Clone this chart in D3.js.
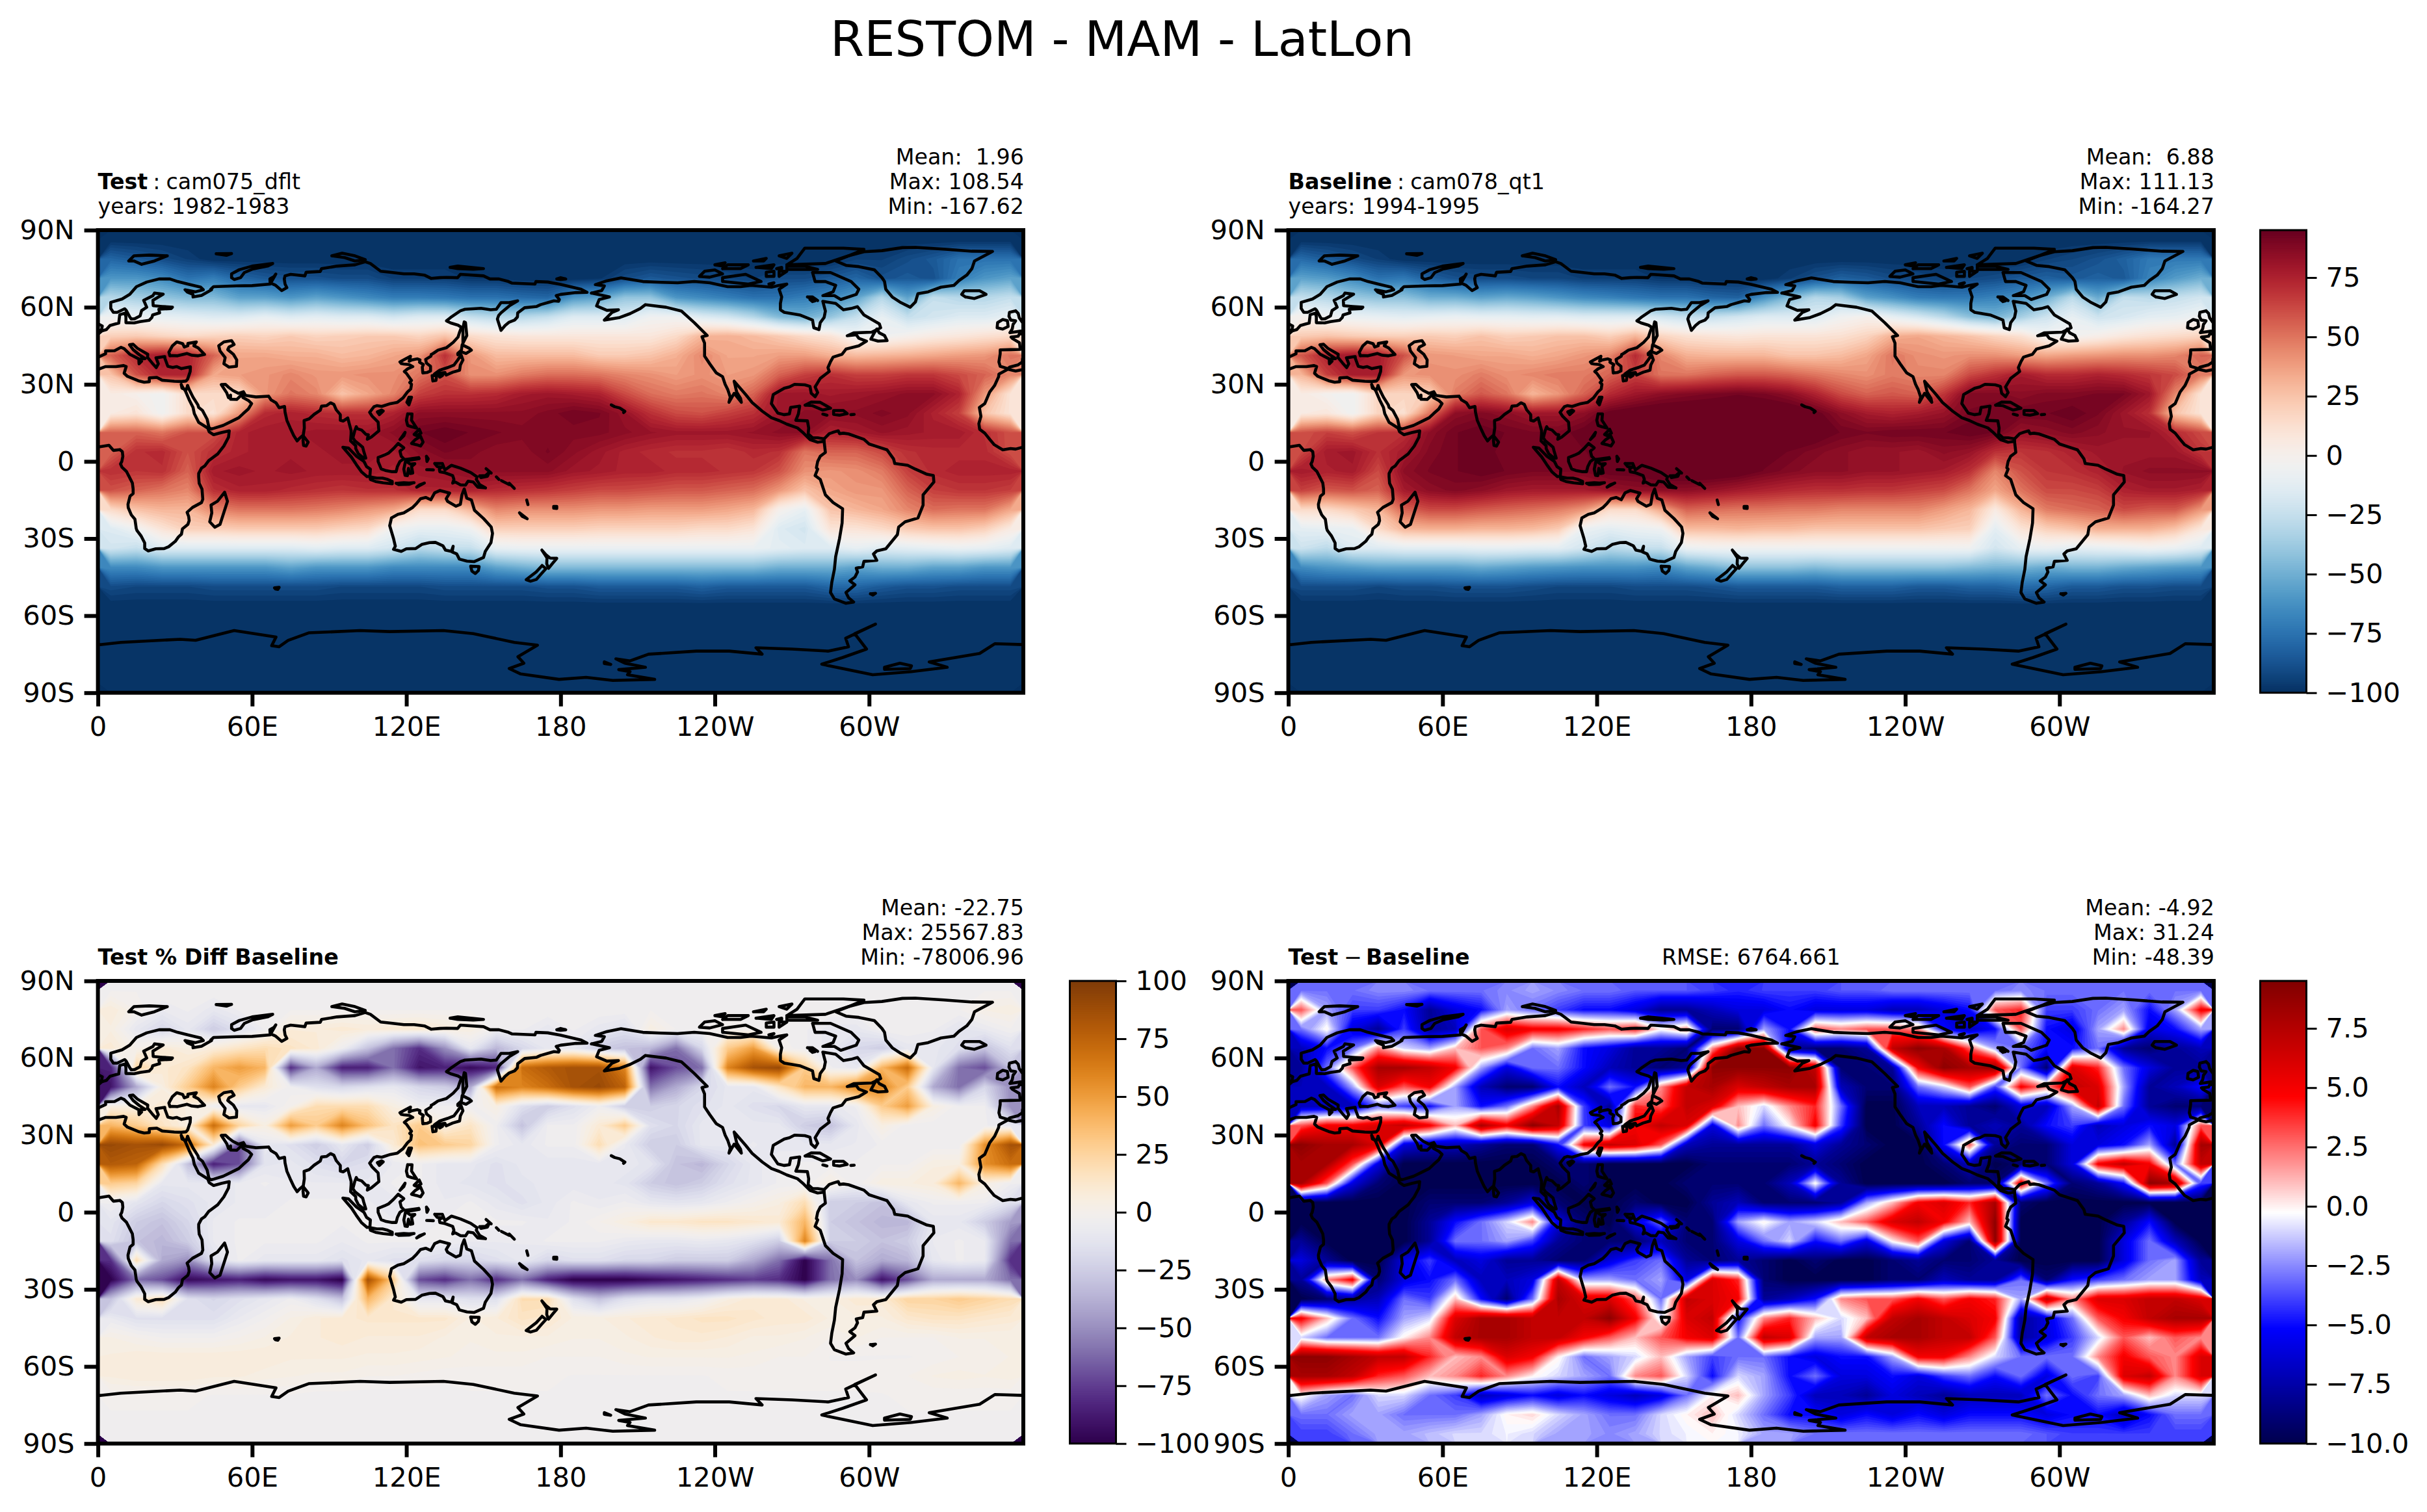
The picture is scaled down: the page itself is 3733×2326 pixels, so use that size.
<!DOCTYPE html>
<html>
<head>
<meta charset="utf-8">
<script src="https://cdn.jsdelivr.net/npm/d3@7"></script>
<style>
  body { margin: 0; background: #fff; }
  text { font-family: "DejaVu Sans"; fill: #000; }
</style>
</head>
<body>
<div id="chart"></div>
<script>
// grid: 10 deg columns, 7.5 deg rows, north to south
const lons = [5,15,25,35,45,55,65,75,85,95,105,115,125,135,145,155,165,175,185,195,205,215,225,235,245,255,265,275,285,295,305,315,325,335,345,355];
const lats = [86.25,78.75,71.25,63.75,56.25,48.75,41.25,33.75,26.25,18.75,11.25,3.75,-3.75,-11.25,-18.75,-26.25,-33.75,-41.25,-48.75,-56.25,-63.75,-71.25,-78.75,-86.25];

const lonTicks = [0,60,120,180,240,300];
const lonLabels = ["0","60E","120E","180","120W","60W"];
const latTicks = [90,60,30,0,-30,-60,-90];
const latLabels = ["90N","60N","30N","0","30S","60S","90S"];

const restomTicks = [-100,-75,-50,-25,0,25,50,75];
const pctTicks = [-100,-75,-50,-25,0,25,50,75,100];
const diffTicks = [-10,-7.5,-5,-2.5,0,2.5,5,7.5];

const testValues = [
[-100,-100,-100,-100,-100,-100,-100,-100,-100,-100,-100,-100,-100,-100,-100,-100,-100,-100,-100,-100,-100,-100,-100,-100,-100,-100,-100,-100,-100,-100,-100,-100,-100,-100,-100,-100],
[-80,-85,-90,-95,-100,-100,-100,-100,-100,-100,-100,-100,-100,-100,-100,-100,-100,-100,-100,-100,-100,-100,-100,-100,-100,-100,-100,-100,-100,-95,-95,-90,-85,-75,-75,-75],
[-60,-60,-65,-75,-70,-80,-85,-88,-88,-90,-90,-95,-95,-95,-98,-98,-100,-100,-100,-98,-90,-85,-88,-90,-92,-95,-90,-90,-85,-80,-88,-85,-88,-70,-60,-55],
[-30,-35,-40,-45,-45,-55,-55,-60,-55,-60,-65,-70,-70,-72,-75,-75,-78,-80,-60,-55,-40,-40,-60,-65,-70,-75,-75,-70,-65,-55,-30,-55,-25,-30,-30,-25],
[-5,-8,-10,-12,-15,-15,-10,-15,-12,-15,-15,-20,-15,-15,-25,-30,-30,-25,-15,-15,-15,-5,-5,-15,-20,-30,-45,-50,-40,-25,-10,-25,-20,-15,-15,-10],
[20,22,18,15,18,20,18,22,18,20,22,22,18,25,15,10,8,8,8,8,8,8,15,30,32,28,22,15,10,-5,-5,0,5,8,12,15],
[55,72,78,75,55,35,35,32,32,28,30,35,40,70,40,28,28,28,28,22,22,25,32,45,35,35,38,38,32,28,30,32,35,38,40,50],
[25,60,75,75,35,38,40,45,40,40,42,42,50,60,42,42,48,52,52,50,45,42,38,42,38,40,55,65,70,65,65,68,68,62,55,45],
[5,0,-5,15,15,15,40,50,45,25,35,45,65,70,70,72,78,80,78,75,62,52,48,50,45,55,80,80,78,80,82,85,85,75,40,10],
[5,10,-5,15,10,40,72,75,72,70,70,75,85,85,85,85,85,88,92,90,82,70,62,60,65,70,80,85,85,85,88,85,75,65,25,10],
[55,55,50,60,60,75,78,78,80,80,80,85,92,95,92,90,88,88,88,88,85,82,80,80,80,82,85,85,75,78,82,80,78,78,70,60],
[55,70,72,60,70,75,78,78,78,80,80,78,85,90,88,85,85,90,85,80,75,72,70,70,68,72,70,50,55,55,62,70,72,72,72,60],
[70,68,70,55,78,80,78,80,78,78,78,75,80,82,85,85,85,85,80,78,75,75,72,72,70,68,60,42,40,42,48,65,72,75,75,75],
[60,55,50,45,70,75,75,72,70,68,70,70,75,75,75,72,70,68,65,62,62,60,58,58,55,52,40,25,35,40,40,55,65,68,68,65],
[15,25,30,30,45,50,50,50,48,45,40,35,15,15,30,45,42,42,42,40,40,38,38,38,35,30,0,-10,25,30,35,45,52,50,50,35],
[-15,-5,10,20,20,22,22,22,22,18,15,-5,-10,-10,-5,20,20,20,20,18,18,18,18,15,15,10,-15,-20,10,10,15,22,25,25,20,5],
[-20,-25,-15,-15,-15,-15,-15,-15,-12,-15,-15,-20,-30,-25,-25,-10,-8,-8,-8,-8,-8,-8,-8,-8,-8,-8,-12,-15,-15,-10,-15,-12,-10,-8,-10,-15],
[-65,-65,-60,-60,-60,-60,-60,-55,-60,-60,-60,-65,-65,-65,-65,-55,-50,-45,-45,-45,-45,-45,-45,-45,-45,-45,-50,-50,-50,-55,-50,-50,-55,-55,-60,-60],
[-90,-92,-92,-92,-90,-90,-90,-90,-90,-92,-92,-92,-92,-90,-90,-90,-90,-88,-88,-85,-85,-85,-85,-82,-85,-85,-85,-85,-80,-80,-85,-88,-88,-90,-90,-90],
[-100,-100,-100,-100,-100,-100,-100,-100,-100,-100,-100,-100,-100,-100,-100,-100,-100,-100,-100,-100,-100,-100,-100,-100,-100,-100,-100,-100,-100,-100,-100,-100,-100,-100,-100,-100],
[-100,-100,-100,-100,-100,-100,-100,-100,-100,-100,-100,-100,-100,-100,-100,-100,-100,-100,-100,-100,-100,-100,-100,-100,-100,-100,-100,-100,-100,-100,-100,-100,-100,-100,-100,-100],
[-100,-100,-100,-100,-100,-100,-100,-100,-100,-100,-100,-100,-100,-100,-100,-100,-100,-100,-100,-100,-100,-100,-100,-100,-100,-100,-100,-100,-100,-100,-100,-100,-100,-100,-100,-100],
[-100,-100,-100,-100,-100,-100,-100,-100,-100,-100,-100,-100,-100,-100,-100,-100,-100,-100,-100,-100,-100,-100,-100,-100,-100,-100,-100,-100,-100,-100,-100,-100,-100,-100,-100,-100],
[-100,-100,-100,-100,-100,-100,-100,-100,-100,-100,-100,-100,-100,-100,-100,-100,-100,-100,-100,-100,-100,-100,-100,-100,-100,-100,-100,-100,-100,-100,-100,-100,-100,-100,-100,-100]
];

const baseValues = [
[-100,-100,-100,-100,-100,-100,-100,-100,-100,-100,-100,-100,-100,-100,-100,-100,-100,-100,-100,-100,-100,-100,-100,-100,-100,-100,-100,-100,-100,-100,-100,-100,-100,-100,-100,-100],
[-78,-84,-90,-95,-100,-100,-100,-100,-100,-100,-100,-100,-100,-100,-100,-100,-100,-100,-100,-100,-100,-100,-100,-100,-100,-100,-100,-100,-100,-95,-92,-88,-82,-72,-72,-72],
[-55,-58,-65,-75,-72,-82,-88,-90,-90,-92,-92,-95,-95,-95,-98,-98,-100,-100,-100,-95,-88,-82,-85,-90,-92,-95,-92,-90,-85,-82,-85,-82,-85,-68,-58,-50],
[-25,-30,-38,-42,-42,-50,-50,-55,-52,-55,-60,-65,-68,-72,-75,-75,-80,-82,-62,-45,-30,-35,-55,-62,-70,-72,-72,-68,-62,-50,-28,-52,-25,-28,-25,-20],
[0,-5,-8,-10,-12,-10,-8,-10,-10,-12,-12,-15,-15,-15,-20,-25,-25,-20,-15,-15,-15,-5,0,-10,-18,-28,-42,-48,-35,-22,-10,-22,-18,-12,-10,-5],
[22,25,22,20,20,22,20,25,20,22,25,25,20,30,18,12,10,8,10,10,10,12,18,32,35,30,25,18,12,-3,-3,2,8,12,15,18],
[58,75,80,78,60,40,38,35,35,32,35,40,45,72,45,32,30,30,30,25,25,28,35,50,42,40,42,42,38,35,38,40,42,42,45,55],
[30,65,78,78,40,42,42,48,42,45,48,48,55,65,50,50,55,58,58,55,50,45,42,48,45,45,62,70,78,72,72,75,72,68,62,48],
[5,-2,-5,18,18,20,48,58,50,30,40,55,72,80,85,88,90,92,90,85,75,62,55,58,55,68,88,88,85,88,88,90,90,80,45,10],
[5,8,-5,18,12,50,85,88,85,80,80,85,95,98,100,100,100,100,100,100,95,85,78,75,78,82,90,92,92,92,95,90,80,70,25,10],
[60,65,60,68,70,85,92,95,92,90,90,95,100,100,100,100,100,100,100,100,98,92,90,92,92,92,95,92,82,85,88,85,82,82,72,62],
[62,78,80,70,78,88,92,95,90,90,90,92,95,100,100,100,100,100,95,92,88,85,82,82,80,85,82,70,68,70,75,80,80,80,80,68],
[78,75,78,62,85,90,92,95,92,90,90,90,95,95,100,100,100,98,92,88,85,85,82,82,80,78,70,45,60,68,70,75,82,85,85,85],
[65,58,60,55,78,85,88,85,80,78,78,78,82,85,85,85,82,78,75,72,70,70,68,68,65,62,50,35,50,62,62,65,75,78,78,75],
[15,15,22,30,55,62,62,58,55,52,48,40,15,15,35,55,52,50,50,48,48,45,45,45,45,38,30,5,30,48,52,55,62,58,58,40],
[-12,-10,-8,15,30,32,32,30,30,28,22,-8,-12,-8,-5,28,28,30,28,28,25,25,25,25,25,22,20,-12,10,20,25,32,32,32,25,8],
[-22,-28,-15,-15,-12,-12,-12,-10,-10,-12,-12,-20,-30,-25,-25,-8,-5,-5,-5,-5,-5,-5,-5,-5,-5,-5,-5,-20,-10,-8,-12,-10,-8,-5,-8,-15],
[-65,-60,-58,-55,-55,-55,-55,-52,-55,-58,-60,-62,-62,-62,-65,-55,-50,-42,-42,-42,-45,-42,-42,-42,-42,-42,-45,-48,-48,-52,-48,-48,-52,-55,-58,-60],
[-90,-90,-90,-92,-90,-90,-88,-88,-88,-90,-92,-92,-92,-90,-90,-90,-88,-85,-85,-85,-85,-82,-82,-82,-85,-85,-82,-82,-78,-80,-85,-85,-88,-88,-90,-90],
[-100,-100,-100,-100,-100,-100,-100,-100,-100,-100,-100,-100,-100,-100,-100,-100,-100,-100,-100,-100,-100,-100,-100,-100,-100,-100,-100,-100,-100,-100,-100,-100,-100,-100,-100,-100],
[-100,-100,-100,-100,-100,-100,-100,-100,-100,-100,-100,-100,-100,-100,-100,-100,-100,-100,-100,-100,-100,-100,-100,-100,-100,-100,-100,-100,-100,-100,-100,-100,-100,-100,-100,-100],
[-100,-100,-100,-100,-100,-100,-100,-100,-100,-100,-100,-100,-100,-100,-100,-100,-100,-100,-100,-100,-100,-100,-100,-100,-100,-100,-100,-100,-100,-100,-100,-100,-100,-100,-100,-100],
[-100,-100,-100,-100,-100,-100,-100,-100,-100,-100,-100,-100,-100,-100,-100,-100,-100,-100,-100,-100,-100,-100,-100,-100,-100,-100,-100,-100,-100,-100,-100,-100,-100,-100,-100,-100],
[-100,-100,-100,-100,-100,-100,-100,-100,-100,-100,-100,-100,-100,-100,-100,-100,-100,-100,-100,-100,-100,-100,-100,-100,-100,-100,-100,-100,-100,-100,-100,-100,-100,-100,-100,-100]
];

const pctValues = [
[-3,-3,-3,-3,-3,-3,-3,-3,-3,-3,-3,-3,-3,-3,-3,-3,-3,-3,-3,-3,-3,-3,-3,-3,-3,-3,-3,-3,-3,-3,-3,-3,-3,-3,-3,-3],
[8,0,-8,-5,-10,-5,-3,-3,-3,-3,-3,-3,-3,-3,-3,-3,-3,-3,-3,-3,-3,-3,-3,-3,-3,-3,-3,-3,-3,-3,-3,-3,-3,-3,3,5],
[5,-10,-20,-10,-25,-15,-5,8,8,10,8,10,12,8,5,-5,-5,-10,-5,-10,-15,5,-3,-3,0,-3,-3,-5,-10,-10,-3,-3,-5,-12,-8,-3],
[10,0,10,5,8,15,20,15,10,-5,-30,-60,-80,-50,-10,-35,-20,-10,-10,-25,-30,-35,-60,-20,30,50,0,-5,-10,-20,-25,-10,-10,-15,-30,-15],
[-85,25,10,15,40,50,40,-80,-40,-85,-85,-60,-90,-85,-95,-85,70,80,85,85,60,-90,-70,-60,60,85,90,30,-5,-10,40,70,-10,-60,-70,-30],
[-90,-40,5,30,60,30,10,-5,-15,-20,-15,-10,-20,-25,-40,70,60,70,85,90,75,-60,-40,-20,-10,-10,15,40,40,60,60,30,-40,-60,-20,-50],
[5,5,10,5,-5,-10,-10,0,20,20,20,5,-5,-5,-5,5,-15,-25,-15,-5,-25,-25,-20,-15,-10,-15,-20,-10,-10,-5,30,50,5,-5,-5,-50],
[40,30,15,5,70,25,5,50,30,60,35,15,30,5,15,-5,-30,-5,-5,10,30,-15,-20,-10,-10,-10,-10,-25,-30,-10,5,-5,-5,-5,-5,-10],
[90,85,90,70,10,-70,-10,-15,-25,-10,-25,10,35,30,25,-5,-10,-5,-5,20,-8,-25,-25,-10,-10,-8,-10,-10,-10,-8,-5,-5,-5,-5,55,85],
[80,75,20,-30,-85,-70,-12,-10,-15,-20,-15,-8,-5,-10,-10,-15,-10,-10,-10,-10,-10,-12,-30,-35,-20,-10,-5,-5,-5,-5,-3,-3,5,5,55,70],
[30,25,-10,-10,-10,-8,-5,-8,-8,-8,-10,-5,-5,-10,-12,-15,-12,-10,-10,-10,-12,-25,-30,-25,-15,-10,-5,-5,5,-5,5,5,8,40,5,-5],
[-5,-12,-20,-15,-10,-8,-8,-5,-5,-5,-8,-10,-5,-8,-5,-10,-15,-10,-5,-8,-5,-10,-12,-10,-5,0,5,20,-25,-25,-30,-10,-5,-5,-5,-15],
[-12,-25,-30,-20,-8,-5,-5,-5,-5,-5,-5,-8,-8,-5,-5,-5,-5,-8,-5,0,5,12,12,15,15,12,10,40,-25,-30,-35,-35,-10,-10,-25,-45],
[-15,-30,-35,-25,-8,-5,-5,-5,-5,-8,-5,-5,-5,-5,-8,-8,-8,-5,-5,-5,-8,-10,-10,-8,-10,-15,-25,60,-25,-25,-30,-25,-8,-5,-8,-60],
[-80,20,-40,-50,-15,-5,-10,-10,-10,-15,-10,-15,-15,-20,-20,-15,-10,-20,-15,-15,-20,-20,-25,-25,-25,-40,-60,-100,-60,-30,-40,-35,-10,-5,-8,-80],
[-100,-60,-70,-95,-90,-85,-95,-90,-90,-100,85,30,-70,-80,-60,-80,-60,-85,-100,-100,-100,-95,-90,-85,-80,-75,-80,-100,-60,-50,-90,-70,-40,-40,-40,-60],
[-30,10,20,-15,-20,-15,-10,-5,-15,-30,40,10,-10,-10,-15,-15,20,20,-15,-30,-15,-10,-10,-5,5,10,10,5,5,10,10,25,25,30,25,20],
[-8,-15,-15,-15,-15,-8,-3,3,8,10,12,12,12,12,5,8,15,12,5,5,8,10,12,15,15,12,10,10,5,5,5,12,15,15,12,10],
[3,0,-3,-3,-3,0,3,6,8,10,8,8,8,5,3,5,5,5,3,3,5,8,10,10,8,5,5,3,0,3,0,0,0,3,3,3],
[6,8,8,8,8,8,8,6,6,6,5,5,4,3,2,2,2,0,0,0,2,3,3,3,3,2,0,0,-3,-3,-3,-3,-2,0,0,3],
[6,8,8,8,6,6,4,3,2,2,0,0,-1,-2,-2,-2,-2,-2,-3,-3,-3,-3,-3,-3,-2,-2,-2,-2,-2,-2,-1,0,3,4,3,4],
[-2,-2,-2,-2,-3,-3,-3,-3,-4,-4,-4,-4,-4,-4,-3,-3,-3,-3,-3,-3,-3,-3,-3,-3,-3,-3,-3,-3,-3,-3,-3,-2,-2,-2,-2,-2],
[-3,-3,-3,-3,-3,-3,-3,-3,-3,-3,-3,-3,-3,-3,-3,-3,-3,-3,-3,-3,-3,-3,-3,-3,-3,-3,-3,-3,-3,-3,-3,-3,-3,-3,-3,-3],
[-3,-3,-3,-3,-3,-3,-3,-3,-3,-3,-3,-3,-3,-3,-3,-3,-3,-3,-3,-3,-3,-3,-3,-3,-3,-3,-3,-3,-3,-3,-3,-3,-3,-3,-3,-3]
];

const diffValues = [
[-3,-3,-3,-2.5,-2.5,-3,-3,-3,-2.5,-2,-2.5,-3,-3,-3.5,-3.5,-3.5,-4,-4.5,-4,-4,-4,-3.5,-3.5,-3,-3,-3,-3,-3,-2.5,-3,-3,-3,-3,-3,-3,-3],
[3,-2,-4,-4,-5,-8,-6,-5,-2,-3,-4,-5,-5,-6,-8,-8,-7,-6,-6,-5,-6,-6,-6,-7,-7,-6,-5,3,4,-4,-4,-3,-2,-5,-2,5],
[-3,0,-6,-8,-4,-8,-7,3,6,5,5,4,3,4,0,2,-9,-9,-2,-5,3,2,3,3,2,-5,-7,-5,3,-5,-6,-2,2,-6,-5,-2],
[-7,-5,-3,2,-1,-2,1,3,2,-3,-2,-5,-6,-8,-8,-9,2,9,9,-8,-9,-9,-8,7,9,8,3,-2,-3,-5,-5,-3,-8,-9,-8,-7],
[-8,-3,3,8,8,7,5,-2,-6,-3,-3,-5,-7,-8,-9,-8,9,9,9,9,7,-9,-9,-8,5,9,8,9,-3,-9,6,4,-3,-6,-8,-8],
[-7,-7,-2,6,3,5,-2,-7,-9,-9,-5,-7,-3,-5,2,7,8,6,7,8,8,-7,-9,-9,-3,-1,3,-4,5,2,7,6,-2,-8,-7,-5],
[-7,-7,-7,-3,-4,-5,-2,-5,-3,2,8,-4,-8,4,3,7,6,1,-1,2,4,-3,-10,-10,-7,-7,-8,-9,-6,-7,-2,7,-3,-8,-9,-9],
[3,5,5,6,7,5,1,8,5,9,7,-4,-6,5,7,6,-6,2,-3,0,5,-4,-10,-10,-8,-5,-8,-7,-8,-5,-4,-7,-6,-5,-6,3],
[9,8,8,6,-6,-7,-7,-8,-9,-9,-5,5,7,6,3,-7,-8,-8,-8,-8,-6,-8,-9,-10,-10,-5,3,-8,-9,-9,-6,-6,-5,-2,-8,8],
[8,8,3,-6,-10,-10,-10,-10,-10,-10,-9,-9,-10,-10,-10,-10,-9,-9,-9,-9,-8,-9,-10,-10,-10,-9,-7,-10,-9,-9,-6,5,7,5,-3,7],
[8,3,-6,-9,-10,-10,-10,-10,-10,-10,-10,-9,-10,-10,-10,-9,-9,-9,-9,-7,0,-8,-10,-10,-10,-10,-9,-9,6,-3,-9,-8,-5,9,8,-4],
[-10,-10,-10,-10,-10,-9,-9,-9,-8,-6,-9,-10,-10,-9,-10,-10,-8,-7,-9,-9,-9,-8,-2,1,5,6,4,8,-9,-10,-10,-10,-10,-10,-10,-10],
[-10,-10,-10,-10,-10,-8,-5,-3,-1,2,-6,-9,-10,-6,-3,-9,-9,-2,0,-2,-1,1,3,6,7,5,1,9,-10,-10,-10,-10,-8,-5,-10,-10],
[-8,-10,-10,-10,-10,-8,-3,-3,-2,-4,-8,-9,-9,-9,-7,-9,-9,-6,-3,-1,-5,-3,-6,0,3,-6,-9,9,-10,-10,-10,-10,-6,-3,-7,-10],
[-6,-8,-10,-10,-6,-4,-7,-6,-8,-8,-9,-9,-6,-4,-3,-8,-9,-8,-9,-10,-9,-10,-10,-9,-8,-9,-9,-8,-10,-10,-10,-10,-6,-3,-2,-8],
[-8,2,5,-9,-6,-5,-3,-7,-7,-6,7,-2,-2,-3,-2,-6,6,4,-9,-10,-10,-10,-10,-9,-9,-7,-8,-8,-3,-9,-5,-4,-3,-2,-2,-7],
[-10,-9,-8,-7,-3,-4,1,-5,-9,-3,8,6,6,3,-3,7,6,5,-8,-7,-5,2,3,3,5,3,5,4,-2,7,2,6,6,7,7,6],
[5,1,-3,-5,-2,-1,6,8,8,7,7,7,9,5,-1,6,7,-5,2,4,1,-1,1,7,8,7,6,5,-8,-6,-3,3,5,7,8,8],
[-1,-3,-3,-3,0,2,7,8,8,7,7,5,3,1,3,5,6,-3,7,6,-2,-2,7,8,8,7,7,3,-8,-6,-4,-1,3,1,3,2],
[9,9,8,7,7,4,1,2,6,5,0,-3,-2,-1,1,-2,-4,-3,-3,-5,-6,-5,-5,-2,5,5,2,-1,-3,-3,-3,2,5,3,2,6],
[8,8,7,4,3,1,2,4,2,0,-1,-2,-3,2,3,-1,-5,-1,-2,-5,-3,-6,-6,-5,-6,-4,-3,-5,-3,-6,-3,-4,6,7,2,6],
[0,-2,-3,-1,-1,-3,-4,-7,-6,-5,-6,-5,-6,-7,-6,-3,0,1,-2,-4,-7,-7,-8,-6,-7,-8,-7,-7,-7,-3,-5,-3,-2,1,-1,-1],
[-3,-3,-2,-2,-3,-3,-3,-2,0,0.5,-1,-2,-3,-3,-1,0,1,-1,-3,-5,-5,-6,-5,-6,-5,-6,-5,-5,-5,-6,-5,-5,-7,-5,-3,-3],
[-4,-4,-3,-2,-2,-1.5,-1,-1,-0.5,-1,-2,-2,-2.5,-2,-1,-0.5,0,-0.5,-2,-2,-3,-3,-3,-3,-3,-3,-3,-3,-3,-3.5,-4,-4,-4,-4,-4,-4]
];

// coastlines, [lon, lat]; lon runs 0..360, a few go a little past 360 and get wrapped
const africaEast = [[0,5.6],[4.3,6.3],[6,4.3],[8.5,4.6],[9.5,3.8],[9.7,2],[9.3,0],[8.8,-1],[9.4,-2.3],[11.1,-3.9],[12.2,-6],[13.4,-8.4],[13.7,-10.7],[13.7,-12.5],[12.5,-13.5],[11.7,-16.7],[11.8,-18],[13,-20.8],[14.4,-22.5],[14.9,-26],[15.2,-26.9],[16.8,-29],[18.2,-31.7],[18.2,-33.9],[19.6,-34.8],[22.5,-34],[25.8,-33.9],[27.5,-33.2],[30.1,-31.1],[31.3,-29.4],[32.5,-28.3],[32.9,-26.2],[35,-24.5],[35.5,-23],[35.3,-21.4],[34.7,-19.8],[36.8,-17.9],[40.3,-16],[40.8,-14.7],[40.5,-10.8],[39.4,-8.5],[39.2,-6],[39.2,-4.7],[40.3,-2.6],[41.6,-1.7],[43.1,0.3],[46.6,2.9],[49,6],[50.8,9.4],[51.1,11.9],[48,11.2],[45,10.4],[43.3,11.5],[42.7,13],[39.2,15.2],[37.5,18.6],[37,21],[35.5,24],[34,27.5],[33,28.8],[32.4,30],[32.7,28.5],[34.3,27.8],[34.9,29.5]];
const arabiaToKorea = [[34.9,29.5],[35.5,28],[37,25],[38.9,22],[39.2,21],[40.7,19.8],[42.5,16.4],[43.2,13.2],[44,12.6],[45.1,12.9],[48.7,14],[52,15.6],[54.8,17],[56.5,18.6],[58.5,20.4],[59.8,22.5],[58.7,23.6],[56.4,24.9],[56.4,26.4],[54,24.1],[51.6,24.2],[51.6,25.8],[50.8,24.8],[50.1,26.7],[48,29.9],[49.6,30],[50.9,28.8],[52.5,27.6],[54.7,26.5],[56.6,27.1],[57.4,25.7],[61.5,25.1],[66.4,25.4],[67.4,23.9],[69.3,22.8],[70.5,20.9],[72.6,21.4],[72.8,19.2],[73.5,16],[74.8,13],[76.2,10],[77.5,8],[78.3,8.9],[79.9,10.3],[80.3,13],[80.2,15.9],[82.2,16.6],[84.1,18.3],[86.5,19.9],[87,21.5],[88.9,21.7],[90.5,22.8],[91.8,22.2],[92.7,20.1],[94.3,18.2],[94.3,16],[95.4,15.7],[97.2,16.9],[97.7,15],[98.5,12],[98.5,10.7],[98.3,8],[100.3,6.1],[100.3,5],[101.3,3],[103.5,1.2],[104.2,1.3],[103.4,4],[103,5.5],[101.6,6.7],[100,8],[99.2,9.2],[99.9,11.9],[100.5,13.5],[101,12.7],[102.6,12.2],[104.3,10.5],[105.2,10.4],[104.8,8.6],[106.4,9.5],[109.3,11.9],[109,15.3],[106.6,17.7],[105.7,19.1],[107.4,21.3],[108.5,21.7],[110.4,21.4],[113.8,22.5],[116.5,23],[118.7,24.7],[120.4,27],[121.7,28.2],[122,30],[121.3,30.7],[122,31.5],[120,34.3],[119.2,35],[120.6,36.1],[122.5,36.9],[121,37.7],[119,37.9],[118,38.1],[117.5,38.7],[119.7,39.9],[121.6,40.9],[121.1,39],[122.1,39.5],[124.3,39.9],[125.3,39.5],[125.1,38.6],[126.6,37.7],[126.2,36.7],[126.4,34.4],[128,34.6],[129.4,35.2],[129.4,37],[127.8,38.3],[127.5,39.7],[129.5,40.9],[129.7,41.6]];
const russiaCoast = [[129.7,41.6],[130.7,42.2],[132.3,43.3],[135.5,44.2],[138.2,46.3],[140.1,48.4],[140.6,50],[141.4,52.2],[140.1,53],[137.2,53.9],[135.6,54.7],[137.2,56],[141,58.6],[142.8,59.2],[146,59.4],[149,59.6],[152.8,59],[155,59.2],[156.8,61.8],[160,61.8],[163.3,62.5],[160,60.5],[156.8,57.8],[155.9,56.8],[155.4,55.4],[156.8,51],[158.4,52.9],[160,54.2],[162.1,55],[163.2,56.2],[163.3,57.8],[166,59.8],[170.7,60.3],[172.2,61],[177.4,62.5],[179.2,62.3],[179.5,63],[178.3,64.5],[180,65],[186,65.7],[190.3,65.8],[188,67],[180,68.9],[175,69.8],[170.4,70],[170,69],[161,69.4],[159.7,70],[156,71],[152.5,71],[150,72.2],[141,72.8],[139.9,71.5],[135.6,71.6],[133,71.5],[129.7,71.2],[127,72.5],[123,73],[119,73],[113,73.7],[110,74],[106,77],[104,77.7],[100,76.5],[93,76],[87,75],[86.5,73.9],[81,73.6],[80.5,72.2],[75,72.8],[72.8,72.2],[72.5,71],[72.8,69],[73.5,67.6],[71.5,66.5],[69,68.6],[67,69.5],[66.9,71],[68.5,71.9],[69.2,72.9],[67,69],[60,68.4],[54,68.3],[45,68],[43.9,67],[44.2,66.8],[40.3,64.6],[37,64],[37,65],[34.8,65.9],[33.9,66.8],[38,66],[41,66.8],[40,67.8],[35,69],[31,70],[28,71],[23.8,71],[19,69.8],[15,68],[12.4,65],[9.4,63.2],[5,61.9],[5,59.5],[6,58],[7.5,58],[10.4,59.4],[11,58.8],[12.4,56.2],[13,55.4],[14.3,55.5],[16.4,56.6],[17,58.7],[19,60],[17.8,62.7],[21.4,64.5],[22,65.5],[25.4,65.1],[21.4,62.7],[21.5,60.6],[25,60.3],[29,60],[28.5,59.5],[23.7,59.2],[24,57.8],[21.3,57],[21,56],[19.9,54.9],[18.6,54.7],[16.4,54.4],[14.1,53.9],[10.9,54],[10.9,56.3],[10.5,57.7],[8.5,57.1],[8.3,55.5],[8.1,53.8],[6.9,53.5],[4.7,52.9],[3.3,51.3],[1.6,50.8],[0,49.5]];
const iberia = [[360,49.5],[358.5,49.7],[358,48.7],[355.2,48.4],[355.8,47.8],[358.5,46.2],[358.8,43.6],[355,43.5],[351,43.4],[351,41.9],[350.5,38.7],[351,37],[354,36.1],[354.7,36.7],[358,37.6],[359.6,38.7],[359.7,40],[360,40.5]];
const mediterranean = [[0,40.5],[3,41.9],[3,43],[6.5,43.1],[9,44.4],[10.2,43.9],[12.4,41.7],[15.9,39.9],[16,38],[17,39],[16.5,39.9],[18.4,40],[16,41.6],[13.7,43.5],[12.3,45.4],[13.7,45.6],[15.4,44],[19.4,41.7],[19.3,40.5],[21.1,38.3],[22.7,36.5],[23.5,38],[22.6,40.3],[26,40.8],[26.1,40],[27.2,37],[29.1,36.6],[30.6,36.9],[32.5,36.1],[36,36.8],[35.9,35],[34.9,32],[34.3,31.3],[32.5,31.1],[29.7,31.2],[25,31.6],[22.9,32.7],[20,32.5],[20,31],[18,30.8],[15.7,31.4],[11.5,33.1],[10.2,34.3],[11,36.9],[10,37.3],[7,36.9],[3,36.9],[0,35.8]];
const africaWest = [[360,35.8],[357,35.2],[354,35.9],[350.5,34],[350.4,33],[348.8,29.5],[346.9,27],[345,22.5],[342.9,21],[343.5,17.5],[342.7,14.7],[343,12.5],[345,11],[347,8.5],[348.7,6.5],[352,4.5],[355,5],[357,4.8],[360,5.6]];
const blackSea = [[27.6,42.5],[28,41.1],[29,41.2],[31,41.1],[34.7,42],[36.6,41.3],[39,41.1],[41.5,41.6],[39,44.2],[37.3,45],[38.3,46.5],[35,45.9],[35,45],[33.6,44.5],[33,45.8],[30.7,46.5],[29,45],[27.6,42.5]];
const caspian = [[47,45],[49,46.5],[52,47],[53,45.5],[51,44.5],[50.5,43.5],[52.7,41.7],[54,39.5],[53.9,37],[51,36.7],[49,38],[49.5,40.4],[47.5,43],[47,45]];
const britain = [[357,58.6],[354.6,58],[354.4,56.5],[355.1,55],[357,54.7],[356,53.3],[355.7,51.6],[354.8,50.1],[359,50.7],[361.4,51.2],[361.7,52.7],[360,53.6],[358.4,55.9],[358,57.6],[357,58.6]];
const ireland = [[352,51.5],[349.8,52],[350,54],[352,55.2],[353.8,54.8],[354.1,52.5],[352,51.5]];
const iceland = [[337.5,64],[336,65],[337,66.4],[343,66.4],[345.5,65],[341,63.4],[337.5,64]];
const svalbard = [[12,78],[14,80],[20,80.3],[27,80],[22,78],[17,76.7],[14,78],[12,78]];
const novayaZemlya = [[52,71.5],[52,73],[55,74.6],[60,76],[68,77],[66,76],[60,74.8],[57,73.5],[55.5,71.5],[53,70.8],[52,71.5]];
const franzJosef = [[46,80.8],[52,80.9],[50,80.2],[46,80.8]];
const severnaya = [[91,80],[95,81],[100,80],[104,78.5],[100,78],[96,79.3],[91,80]];
const newSiberian = [[137,75.5],[140,76],[145,75.5],[150,75],[146,74.8],[140,75],[137,75.5]];
const wrangel = [[178.5,71],[180,71.5],[182,71],[180,70.8],[178.5,71]];
const sakhalin = [[142,46],[143.5,49],[143,54],[142.5,54.3],[142,52],[142,48],[142,46]];
const honshu = [[130.9,34],[133,35.5],[136,36.5],[138.5,37.5],[140,39.5],[141.3,41.4],[142,39.5],[141,37.5],[140.7,35.5],[138,34.7],[135.5,33.6],[135,34.6],[130.9,34]];
const kyushu = [[130,33.4],[131.8,33.5],[131.5,31.5],[130.3,31.3],[130,33.4]];
const shikoku = [[132.5,33.5],[134.5,34.2],[134,33.4],[133,32.8],[132.5,33.5]];
const hokkaido = [[140,42],[141.4,43.3],[141.7,45.4],[144.5,44],[145.3,43.3],[143.2,42],[141.5,42.6],[140,41.5],[140,42]];
const taiwan = [[120.2,23],[121,25],[122,25],[121,22],[120.2,23]];
const hainan = [[108.7,19.3],[110.3,20],[111,19.6],[109.5,18.2],[108.7,19.3]];
const sriLanka = [[80,9.8],[81.8,7.5],[81,6],[80,6.2],[79.8,8.2],[80,9.8]];
const madagascar = [[49.3,-12],[50.4,-15.5],[47.5,-24.5],[45.5,-25.6],[43.5,-23.5],[44.3,-20],[44,-17],[46.5,-15.5],[49.3,-12]];
const luzon = [[120.5,18.5],[122.2,18.5],[122,16],[124,13],[122,13.5],[120.5,14],[120,16],[120.5,18.5]];
const mindanao = [[122,7],[123.5,8.5],[125.5,9.8],[126.5,7.5],[125.5,6],[124,6.5],[122,7]];
const visayas = [[125,12.5],[125.7,11],[124,10],[123,10.5],[125,12.5]];
const palawan = [[117.5,8.5],[119.5,11.3],[119,10],[117.5,8.5]];
const borneo = [[109,1.5],[111.5,2.5],[113,3.2],[115,5],[116.8,7],[119,5.3],[117.5,4],[118,2],[119,1],[117.5,0],[116.5,-2],[116,-4],[114.5,-4],[111.8,-3.5],[110.2,-2.9],[109,0],[109,1.5]];
const sumatra = [[95.3,5.5],[97.5,5.2],[100.6,2],[103.5,0],[104.5,-2],[106,-3],[105.8,-5.8],[104.7,-5.9],[102.5,-4],[100.5,-1.2],[98.6,1.7],[95.3,5.5]];
const java = [[105.8,-6],[108.5,-6.5],[110.7,-6.5],[112.7,-7],[114.5,-7.8],[114.5,-8.7],[111,-8.3],[108,-7.8],[106,-7],[105.8,-6]];
const lesserSunda = [[116,-8.5],[119,-8.3],[121,-8.4],[123,-8.3],[121,-8.9],[117,-9],[116,-8.5]];
const timor = [[124,-10],[127,-8.4],[125,-9.2],[124,-10]];
const sulawesi = [[119.8,0.8],[124.8,1.5],[125,1.1],[121,0.4],[120,0],[121.5,-1],[123.3,-0.9],[122,-2],[122.5,-4.5],[121.5,-4.7],[120.8,-2.7],[120.4,-5.5],[119.5,-5.4],[119,-3],[119.8,0.8]];
const halmahera = [[127.8,2],[128.5,1],[128,0],[127.8,2]];
const seram = [[127.9,-3.2],[130.5,-3.3],[129,-3.2],[127.9,-3.2]];
const newGuinea = [[131,-0.8],[134,-0.8],[135,-3.3],[137.5,-1.5],[141,-2.6],[145,-4.3],[147.5,-6],[147.2,-7],[148.5,-9],[150.8,-10.3],[147.8,-10],[146,-8],[144,-7.7],[143,-9.2],[141,-9.1],[139,-8],[138,-8.4],[138.5,-7],[138,-5.5],[135,-4.4],[133,-4],[132.8,-2.7],[134,-2.2],[132,-2],[131,-0.8]];
const newBritain = [[148.5,-5.6],[150.8,-5.5],[152.3,-4.2],[151.5,-5.8],[149,-6.3],[148.5,-5.6]];
const newIreland = [[151,-2.8],[153,-4.5]];
const solomons = [[155,-6],[156,-7]];
const solomons2 = [[157,-7.5],[160,-9]];
const solomons3 = [[160,-8.5],[162,-10.5]];
const vanuatu = [[166.8,-15],[167.3,-16.8]];
const newCaledonia = [[164,-20],[167,-22.3],[165,-21.3],[164,-20]];
const fiji = [[177.3,-17.5],[178.5,-17.5],[178.5,-18.3],[177.3,-18.2],[177.3,-17.5]];
const australia = [[114.2,-22],[113.5,-25],[115,-30],[115.7,-33],[115,-34.2],[118,-35],[120,-34],[123.6,-33.9],[126,-32.3],[129,-31.6],[131.3,-31.5],[134.2,-32.8],[135.2,-34.5],[137.5,-35],[138.2,-33],[137.8,-35.2],[139.6,-36],[140.6,-38],[143.6,-38.8],[146.3,-39],[150,-37.4],[150.7,-35],[152.9,-31.6],[153.5,-28],[153,-25.5],[150,-22.2],[146.5,-19],[145.3,-15],[143.5,-14.3],[142.5,-10.7],[141.6,-13],[141,-16.7],[139.3,-17.4],[136,-15.5],[135.5,-14.5],[136.8,-12.3],[133,-11.3],[131,-12.2],[129.5,-14.9],[127.5,-14],[125.5,-14.5],[124,-16.3],[122.3,-18],[119,-20],[116.7,-20.6],[114.2,-22]];
const tasmania = [[145,-40.8],[148.3,-40.9],[148,-42.5],[146.8,-43.6],[145.5,-42.7],[145,-40.8]];
const nzNorth = [[172.7,-34.5],[174.5,-36.5],[175.9,-37.6],[178.5,-37.7],[177,-39.5],[175.3,-41.6],[174.6,-39.8],[174.7,-37.5],[172.7,-34.5]];
const nzSouth = [[172.8,-40.5],[174.3,-41.7],[172.7,-43.5],[170.6,-45.9],[168.3,-46.6],[166.6,-46],[170.5,-43],[172.8,-40.5]];
const kerguelen = [[68.7,-49.2],[70.5,-49],[70,-49.8],[69,-49.6],[68.7,-49.2]];
const falkland = [[300.5,-51.5],[302.5,-51.3],[301.5,-52],[300.5,-51.5]];
const hawaii = [[199.7,22],[201,21.3],[203,20.8],[204.2,20],[205,19.5],[204.5,19]];
const cuba = [[275.1,21.9],[277.5,23.1],[281,23],[285,20.7],[282,20],[278,21.7],[275.1,21.9]];
const hispaniola = [[286.2,19.8],[290,19.8],[291.5,18.6],[288.5,18],[286.2,18.3],[286.2,19.8]];
const jamaica = [[282,18.4],[283.6,18]];
const puertoRico = [[292.9,18.2],[294.2,18.3]];
const northAmerica = [[192,65.5],[196,66.5],[197,68.3],[193.5,68.8],[198,70.3],[203.5,71.4],[212,70],[219,69.7],[225.5,69.5],[232,70],[238,69.5],[245,68],[250,68],[254,68.5],[262,67.8],[265,68.5],[268,69],[265,67],[266,64],[265.5,61.5],[265.5,59],[267,58],[273,57],[278,55],[278.5,52],[280.5,51.3],[281,54],[282.5,56],[283,58.5],[282,62.3],[287,61.5],[290,59],[293,59.5],[295.5,60.2],[298,57],[304,53.5],[304.5,52],[301,50.3],[294,50],[291.5,48.9],[295,49.3],[296,47.9],[299,46.8],[296,45],[291,43.7],[289.5,41.7],[286,40.6],[285,38.8],[284,36.5],[284.5,35],[281,32.3],[279,29],[280,26.8],[279,25.2],[277.5,26.5],[277,29.2],[275,29.8],[271,30],[269,29],[267,28.5],[262.7,26],[262,22.5],[264.5,18.8],[267,18.2],[269,18.5],[269.5,21],[273,21.5],[272.5,18.5],[271.5,16],[276,15.8],[276.5,13],[276.3,10.7],[278,9.2],[280,9.2],[282.5,8.8]];
const pacificAmerica = [[282.5,7.8],[280,7.5],[277,8.5],[274.5,11],[272.2,13],[268,14.5],[265,15.9],[262,17],[258.5,19.5],[254.5,22.9],[252,26],[247.5,31.2],[248.5,27],[250,24.5],[250.3,23],[247.5,26.5],[245.5,23],[246,25],[245,28],[244,30],[243,33],[240.5,34.5],[238,38],[236,41],[236,46],[235,48.5],[237,49],[232,54],[227,58.5],[221,60],[213,61],[211,59.5],[207,57.5],[203,56],[197,55],[200,58],[202.5,59],[198,58.8],[194,60.5],[195,63],[199,64],[192,65.5]];
const southAmerica = [[282.5,8.8],[284.5,10.8],[286.5,11.5],[288,11.9],[288.5,10.8],[290,11],[292,10.7],[298,8.6],[300,6.8],[303,5.8],[307,4.5],[309.5,1],[310,-0.8],[315,-1.5],[318,-3],[322.5,-5],[325,-5.5],[325.2,-8],[321,-13],[321,-17],[319,-22],[314,-23.5],[311.5,-25.5],[311,-28.5],[306.5,-34],[303,-34.8],[301.7,-36],[303,-38.5],[298,-38.9],[297.5,-41],[295,-41.5],[295.5,-43],[294.5,-45],[292.5,-46.5],[294.5,-48],[291,-51],[291.5,-52],[292,-53],[294,-54.7],[291,-55.2],[286.5,-53.5],[285,-51],[285.5,-47],[286.5,-42],[287,-37],[288.5,-30],[289.5,-24],[289.7,-18.4],[286,-16],[283,-13],[281,-7],[279,-5.5],[280,-3],[279.5,-2.5],[280,0],[281,2],[283,3.5],[282.5,7.8],[282.5,8.8]];
const baffin = [[278,73.5],[285,73.5],[293,70],[296,67],[295,65],[289,63],[286.5,64.5],[282,64.5],[286,66],[287,68.5],[283,70],[279,70],[278,73.5]];
const ellesmere = [[268,76.5],[272,79],[275,83],[290,83],[298,82.5],[292,80],[283,77],[268,76.5]];
const victoria = [[243,70],[253,69],[258,70],[252,72.8],[243,71.5],[243,70]];
const banks = [[234,72],[238,71.7],[243,73],[240,74.5],[236,74],[234,72]];
const devon = [[268,74.7],[280,74.7],[275,76],[268,76],[268,74.7]];
const somerset = [[265,72],[268,74],[265,74],[265,72]];
const melville = [[243,75],[250,75],[253,76.5],[245,76.5],[243,75]];
const bathurst = [[256,75.5],[262,75],[263,76.5],[256,75.5]];
const princeOfWales = [[260,72],[263,72],[263,74],[260,73.6],[260,72]];
const axelHeiberg = [[265,80],[270,81],[268,79],[265,80]];
const southampton = [[276,64],[280,62.6],[278,64],[276,64]];
const kingWilliam = [[261,69],[263,69.5],[262,68.8],[261,69]];
const princePatrick = [[240,76.5],[244,77.3],[243,76],[240,76.5]];
const cornwallis = [[264,75],[266,75.5],[266,74.8],[264,75]];
const ellefRingnes = [[255,78],[260,79],[259,78],[255,78]];
const coats = [[277,63],[279,62.5],[278,62.2],[277,63]];
const newfoundland = [[300.7,47.6],[303.5,46.8],[307,47],[306,49],[304,50],[303,51.5],[302,50],[300.7,47.6]];
const greenland = [[291,76.3],[296,75.8],[302,74.6],[305,71.5],[306,70],[306.5,67],[309,64],[312,62],[316,60],[318,62],[319,65.3],[323,66],[328,67.8],[333,68.5],[335,70.4],[338,72.5],[340,75],[341,78],[348,81.7],[340,81.8],[329,82.6],[318,83.3],[313,83.2],[305,82],[298,81.6],[292,80],[287,78],[291,76.3]];
const antarctica = [[0.8,-71.3],[8.9,-70.4],[32,-69.2],[38,-69.6],[53,-65.8],[69.3,-68.3],[67.6,-71.7],[70.5,-72.1],[74,-69.6],[82,-66.7],[102,-65.8],[113.5,-66.2],[134.4,-65.8],[146,-67],[162,-70.4],[171,-71.5],[163.4,-76],[165.7,-78.5],[160,-80.6],[164.5,-82.7],[179.4,-84.8],[189.9,-84],[200.3,-85.2],[216.6,-84.8],[206,-83],[207,-81.8],[202.6,-81],[213,-80.1],[205,-78.5],[201.5,-76.8],[207,-77.6],[214.2,-75],[232.8,-73.8],[245.6,-73.8],[258.4,-75],[256,-72.5],[270,-73],[284,-73.8],[292,-72.1],[290.9,-68.8],[302.5,-63.3],[294.4,-67],[299,-73],[289.7,-76.3],[281.6,-78.9],[301.4,-83],[316.4,-81.8],[330.4,-80.1],[323.4,-78],[343,-74.7],[349,-70.9],[360.8,-71.3]];
const berkner = [[306,-80.1],[312,-78.5],[316.5,-79.5],[316,-80.6],[306,-80.9],[306,-80.1]];
const roosevelt = [[197,-78],[199.5,-79],[197,-78.6],[197,-78]];

const coasts = [africaEast,arabiaToKorea,russiaCoast,iberia,mediterranean,africaWest,blackSea,caspian,britain,ireland,iceland,svalbard,novayaZemlya,franzJosef,severnaya,newSiberian,wrangel,sakhalin,honshu,kyushu,shikoku,hokkaido,taiwan,hainan,sriLanka,madagascar,luzon,mindanao,visayas,palawan,borneo,sumatra,java,lesserSunda,timor,sulawesi,halmahera,seram,newGuinea,newBritain,newIreland,solomons,solomons2,solomons3,vanuatu,newCaledonia,fiji,australia,tasmania,nzNorth,nzSouth,kerguelen,falkland,hawaii,cuba,hispaniola,jamaica,puertoRico,northAmerica,pacificAmerica,southAmerica,baffin,ellesmere,victoria,banks,devon,somerset,melville,bathurst,princeOfWales,axelHeiberg,southampton,kingWilliam,princePatrick,cornwallis,ellefRingnes,coats,newfoundland,greenland,antarctica,berkner,roosevelt];

// layout
const W = 3733, H = 2326;
const mapW = 1423.4, mapH = 711.7;
const cbW = 71;
const tickFont = 41.67, smallFont = 33.3;

const svg = d3.select("#chart").append("svg")
    .attr("width", W)
    .attr("height", H)
    .style("display", "block");

svg.append("text")
    .attr("x", 1726).attr("y", 86)
    .attr("text-anchor", "middle")
    .style("font-size", "75px")
    .text("RESTOM - MAM - LatLon");

// colormaps
const rdbu = v => d3.interpolateRdBu(1 - (v + 100) / 195);
const puor = v => d3.interpolatePuOr((v + 100) / 200);
const seismic = d3.scaleLinear()
    .domain([-10, -5.125, -0.25, 4.625, 9.5])
    .range(["#00004c", "#0000ff", "#ffffff", "#ff0000", "#800000"])
    .clamp(true);

const clipId = (() => { let n = 0; return () => "clip" + (n++); })();

function drawMap(g, values, color, lo, hi) {
    values.forEach((r, i) => {
        if (r.length !== lons.length) throw new Error("row " + i + " has " + r.length);
    });
    const x = d3.scaleLinear().domain([0, 360]).range([0, mapW]);
    const y = d3.scaleLinear().domain([90, -90]).range([0, mapH]);

    const id = clipId();
    g.append("clipPath").attr("id", id)
        .append("rect").attr("width", mapW).attr("height", mapH);
    const inner = g.append("g").attr("clip-path", `url(#${id})`);

    inner.append("rect")
        .attr("width", mapW).attr("height", mapH)
        .attr("fill", color(lo));

    // filled bands, grid units go through the lon/lat scales
    const dLon = lons[1] - lons[0], dLat = lats[0] - lats[1];
    const gridPath = d3.geoPath(d3.geoTransform({
        point(px, py) { this.stream.point(x(px * dLon), y(90 - py * dLat)); }
    }));
    const levels = d3.range(72).map(i => lo + (hi - lo) * i / 72);
    const bands = d3.contours()
        .size([lons.length, lats.length])
        .thresholds(levels)(values.flat());
    inner.selectAll("path.band")
        .data(bands)
        .enter().append("path")
        .attr("class", "band")
        .attr("d", gridPath)
        .attr("fill", d => color(d.value + (hi - lo) / 144));

    // coastlines, second copy is for what goes past the 0/360 edge
    const line = d3.line().x(d => x(d[0])).y(d => y(d[1]));
    [0, -360].forEach(shift => {
        inner.append("g")
            .attr("transform", `translate(${x(shift) - x(0)},0)`)
            .selectAll("path")
            .data(coasts)
            .enter().append("path")
            .attr("d", line)
            .attr("fill", "none")
            .attr("stroke", "#000")
            .attr("stroke-width", 4.6)
            .attr("stroke-linejoin", "round")
            .attr("stroke-linecap", "round");
    });

    g.append("rect")
        .attr("width", mapW).attr("height", mapH)
        .attr("fill", "none")
        .attr("stroke", "#000")
        .attr("stroke-width", 6);

    const xAxis = g.append("g")
        .attr("transform", `translate(0,${mapH})`)
        .call(d3.axisBottom(x).tickValues(lonTicks).tickFormat((d, i) => lonLabels[i]).tickSize(21).tickPadding(16));
    const yAxis = g.append("g")
        .call(d3.axisLeft(y).tickValues(latTicks).tickFormat((d, i) => latLabels[i]).tickSize(21).tickPadding(15));
    [xAxis, yAxis].forEach(a => {
        a.select(".domain").remove();
        a.selectAll("line").attr("stroke", "#000").attr("stroke-width", 6);
        a.selectAll("text").style("font-size", tickFont + "px").style("font-family", "DejaVu Sans").attr("fill", "#000");
    });
}

function drawColorbar(g, color, lo, hi, ticks, fmt) {
    const y = d3.scaleLinear().domain([lo, hi]).range([mapH, 0]);
    const steps = d3.range(256).map(i => lo + (hi - lo) * i / 256);
    g.selectAll("rect.step")
        .data(steps)
        .enter().append("rect")
        .attr("class", "step")
        .attr("x", 0)
        .attr("width", cbW)
        .attr("y", d => y(d + (hi - lo) / 256) - 0.5)
        .attr("height", mapH / 256 + 1)
        .attr("fill", d => color(d + (hi - lo) / 512));
    g.append("rect")
        .attr("width", cbW).attr("height", mapH)
        .attr("fill", "none").attr("stroke", "#000").attr("stroke-width", 3);
    const axis = g.append("g")
        .attr("transform", `translate(${cbW},0)`)
        .call(d3.axisRight(y).tickValues(ticks).tickFormat(fmt).tickSize(16).tickPadding(14));
    axis.select(".domain").remove();
    axis.selectAll("line").attr("stroke", "#000").attr("stroke-width", 3);
    axis.selectAll("text").style("font-size", tickFont + "px").style("font-family", "DejaVu Sans").attr("fill", "#000");
}

function statLines(g, mean, max, min) {
    [`Mean: ${mean}`, `Max: ${max}`, `Min: ${min}`].forEach((t, i) => {
        g.append("text")
            .attr("x", mapW + 1).attr("y", -101 + i * 38)
            .attr("text-anchor", "end")
            .attr("xml:space", "preserve")
            .style("white-space", "pre")
            .style("font-size", smallFont + "px")
            .text(t);
    });
}

function boldLabel(g, y, bold, rest) {
    const t = g.append("text").attr("x", 0).attr("y", y).style("font-size", smallFont + "px");
    t.append("tspan").style("font-weight", "bold").text(bold);
    if (rest) t.append("tspan").attr("dx", 8).text(":");
    if (rest) t.append("tspan").attr("dx", 9).text(rest);
}

const fmtInt = d => String(d).replace("-", "\u2212");
const fmtOne = d => d3.format(".1f")(d).replace("-", "\u2212");

// top left
const p1 = svg.append("g").attr("transform", "translate(150.6,354)");
drawMap(p1, testValues, rdbu, -100, 95);
boldLabel(p1, -63, "Test", "cam075_dflt");
p1.append("text").attr("y", -25).style("font-size", smallFont + "px").text("years: 1982-1983");
statLines(p1, " 1.96", "108.54", "-167.62");

// top right
const p2 = svg.append("g").attr("transform", "translate(1981.6,354)");
drawMap(p2, baseValues, rdbu, -100, 95);
boldLabel(p2, -63, "Baseline", "cam078_qt1");
p2.append("text").attr("y", -25).style("font-size", smallFont + "px").text("years: 1994-1995");
statLines(p2, " 6.88", "111.13", "-164.27");
drawColorbar(svg.append("g").attr("transform", "translate(3476.5,354)"), rdbu, -100, 95, restomTicks, fmtInt);

// bottom left
const p3 = svg.append("g").attr("transform", "translate(150.6,1509)");
drawMap(p3, pctValues, puor, -100, 100);
boldLabel(p3, -25, "Test % Diff Baseline");
statLines(p3, "-22.75", "25567.83", "-78006.96");
drawColorbar(svg.append("g").attr("transform", "translate(1645.5,1509)"), puor, -100, 100, pctTicks, fmtInt);

// bottom right
const p4 = svg.append("g").attr("transform", "translate(1981.6,1509)");
drawMap(p4, diffValues, seismic, -10, 9.5);
const t4 = p4.append("text").attr("y", -25).style("font-size", smallFont + "px").style("font-weight", "bold");
t4.append("tspan").text("Test");
t4.append("tspan").attr("dx", 9).style("font-weight", "normal").text("\u2212");
t4.append("tspan").attr("dx", 6).text("Baseline");
p4.append("text")
    .attr("x", mapW / 2).attr("y", -25)
    .attr("text-anchor", "middle")
    .style("font-size", smallFont + "px")
    .text("RMSE: 6764.661");
statLines(p4, "-4.92", "31.24", "-48.39");
drawColorbar(svg.append("g").attr("transform", "translate(3476.5,1509)"), seismic, -10, 9.5, diffTicks, fmtOne);
</script>
</body>
</html>
